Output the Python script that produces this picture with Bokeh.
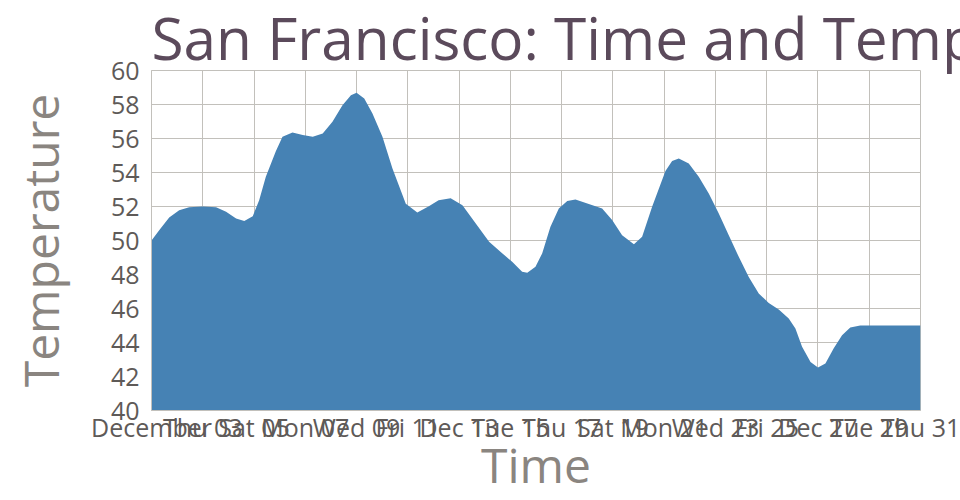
import pandas as pd
from bokeh.plotting import figure
from bokeh.models import Range1d, FixedTicker
from bokeh.embed import file_html
from bokeh.resources import INLINE

# Temperature curve: fractional day of December 2015 and value
day = [1.0, 1.3, 1.69, 2.08, 2.47, 3.0, 3.52, 3.91, 4.3, 4.62, 4.95, 5.2, 5.46, 5.85,
       6.11, 6.5, 6.9, 7.29, 7.68, 8.06, 8.45, 8.78, 9.0, 9.3, 9.62, 10.01, 10.4, 10.92,
       11.37, 11.82, 12.2, 12.67, 13.13, 13.65, 14.17, 14.69, 15.07, 15.46, 15.66, 15.98,
       16.24, 16.56, 16.89, 17.22, 17.54, 18.06, 18.58, 18.97, 19.36, 19.82, 20.14, 20.53,
       21.05, 21.31, 21.57, 21.96, 22.35, 22.74, 23.13, 23.52, 23.91, 24.3, 24.69, 25.08,
       25.47, 25.86, 26.12, 26.38, 26.71, 27.0, 27.29, 27.61, 27.94, 28.26, 28.65, 29.0,
       30.0, 31.0]
temp = [50.0, 50.6, 51.35, 51.78, 51.96, 52.0, 51.96, 51.69, 51.3, 51.14, 51.43, 52.37, 53.75, 55.25,
        56.1, 56.35, 56.2, 56.1, 56.3, 56.98, 57.96, 58.55, 58.69, 58.35, 57.47, 56.1, 54.24, 52.16,
        51.65, 52.02, 52.37, 52.49, 52.08, 51.0, 49.92, 49.24, 48.75, 48.16, 48.1, 48.45,
        49.24, 50.8, 51.88, 52.33, 52.41, 52.14, 51.88, 51.2, 50.31, 49.78, 50.22, 51.98,
        54.09, 54.67, 54.82, 54.53, 53.75, 52.76, 51.59, 50.31, 49.04, 47.86, 46.88, 46.33,
        45.94, 45.41, 44.82, 43.75, 42.86, 42.53, 42.76, 43.65, 44.43, 44.88, 45.0, 45.0,
        45.0, 45.0]

tick_days = [1, 3, 5, 7, 9, 11, 13, 15, 17, 19, 21, 23, 25, 27, 29, 31]
tick_labels = ["December", "Thu 03", "Sat 05", "Mon 07", "Wed 09", "Fri 11", "Dec 13", "Tue 15",
               "Thu 17", "Sat 19", "Mon 21", "Wed 23", "Fri 25", "Dec 27", "Tue 29", "Thu 31"]
y_ticks = [40, 42, 44, 46, 48, 50, 52, 54, 56, 58, 60]

title_text = "San Francisco: Time and Temperature"
x_label = "Time"
y_label = "Temperature"

base = pd.Timestamp("2015-12-01")


def to_ms(d):
    return (base + pd.Timedelta(days=d - 1)).value / 1e6


xs = [to_ms(d) for d in day]
tick_ms = [to_ms(d) for d in tick_days]

FONT = "Open Sans"
GRID = "#c2c0bb"

p = figure(width=960, height=500, x_axis_type="datetime",
           x_range=Range1d(tick_ms[0], tick_ms[-1]), y_range=Range1d(y_ticks[0], y_ticks[-1]),
           output_backend="svg", toolbar_location=None,
           min_border_left=151, min_border_right=40, min_border_top=0, min_border_bottom=90)

p.varea(x=xs, y1=[y_ticks[0]] * len(xs), y2=temp, fill_color="#4682b4")

p.xgrid.ticker = FixedTicker(ticks=tick_ms)
p.ygrid.ticker = FixedTicker(ticks=y_ticks)
for g in (p.xgrid, p.ygrid):
    g.grid_line_color = GRID
    g.grid_line_width = 1
p.outline_line_color = GRID

p.xaxis.ticker = FixedTicker(ticks=tick_ms)
p.xaxis.major_label_overrides = {t: l for t, l in zip(tick_ms, tick_labels)}
p.yaxis.ticker = FixedTicker(ticks=y_ticks)

for ax in (p.xaxis[0], p.yaxis[0]):
    ax.axis_line_color = GRID
    ax.major_tick_line_color = None
    ax.minor_tick_line_color = None
    ax.major_tick_out = 0
    ax.major_tick_in = 0
    ax.major_label_text_font = FONT
    ax.major_label_text_font_size = "25px"
    ax.major_label_text_color = "#5e5a58"
    ax.axis_label_text_font = FONT
    ax.axis_label_text_font_size = "48px"
    ax.axis_label_text_font_style = "normal"
    ax.axis_label_text_color = "#8a8580"

p.xaxis.axis_label = x_label
p.yaxis.axis_label = y_label
p.xaxis.major_label_standoff = -1
p.xaxis.axis_label_standoff = -15
p.yaxis.major_label_standoff = 12
p.yaxis.axis_label_standoff = 35

p.title.text = title_text
p.title.text_font = FONT
p.title.text_font_size = "58.5px"
p.title.text_font_style = "normal"
p.title.text_color = "#5b4a5b"
p.title.align = "left"
p.title.standoff = -12
p.title.offset = 0

open("out.html", "w").write(file_html(p, INLINE))
